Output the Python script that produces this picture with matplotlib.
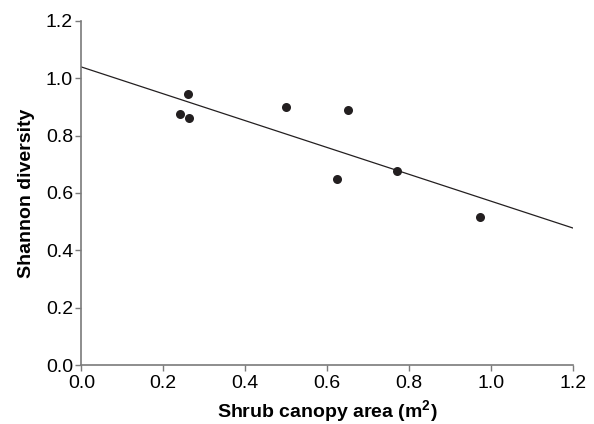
import matplotlib
matplotlib.use("Agg")
import matplotlib.pyplot as plt
import numpy as np

# ===== Data =====
canopy_area = [0.241, 0.261, 0.262, 0.501, 0.625, 0.652, 0.771, 0.974]
shannon = [0.875, 0.944, 0.860, 0.900, 0.650, 0.890, 0.678, 0.517]

# fitted line endpoints (intercept at x=0, value at x=1.2)
fit_x = [0.0, 1.2]
fit_y = [1.039, 0.478]

x_ticks = [0.0, 0.2, 0.4, 0.6, 0.8, 1.0, 1.2]
y_ticks = [0.0, 0.2, 0.4, 0.6, 0.8, 1.0, 1.2]

plt.rcParams["font.family"] = ["Liberation Sans", "DejaVu Sans"]
plt.rcParams["mathtext.fontset"] = "custom"
plt.rcParams["mathtext.bf"] = "Liberation Sans:bold"

AXIS_GREY = "#7a7a7a"
INK = "#231f20"

fig = plt.figure(figsize=(5.94, 4.24), dpi=100)
ax = fig.add_axes([0.137, 0.139, 0.827, 0.812])

# regression line and points
ax.plot(fit_x, fit_y, color=INK, linewidth=0.9, zorder=2)
ax.plot(canopy_area, shannon, "o", color=INK, markersize=6.5,
        markeredgewidth=0, zorder=3)

ax.set_xlim(0, 1.2)
ax.set_ylim(0, 1.2)
ax.set_xticks(x_ticks)
ax.set_yticks(y_ticks)
ax.set_xticklabels([f"{t:.1f}" for t in x_ticks])
ax.set_yticklabels([f"{t:.1f}" for t in y_ticks])

# only left and bottom axes, grey
for side in ["top", "right"]:
    ax.spines[side].set_visible(False)
for side in ["left", "bottom"]:
    ax.spines[side].set_color(AXIS_GREY)
    ax.spines[side].set_linewidth(1.2)

ax.tick_params(direction="out", length=4, width=1, color=AXIS_GREY,
               labelsize=14, labelcolor="black", pad=2)
ax.tick_params(axis="x", pad=3)

ax.set_xlabel("Shrub canopy area (m$^\\mathbf{2}$)", fontsize=14,
              fontweight="bold", labelpad=5)
ax.set_ylabel("Shannon diversity", fontsize=14, fontweight="bold",
              labelpad=8)

fig.savefig("out.png", dpi=100)
plt.close(fig)
